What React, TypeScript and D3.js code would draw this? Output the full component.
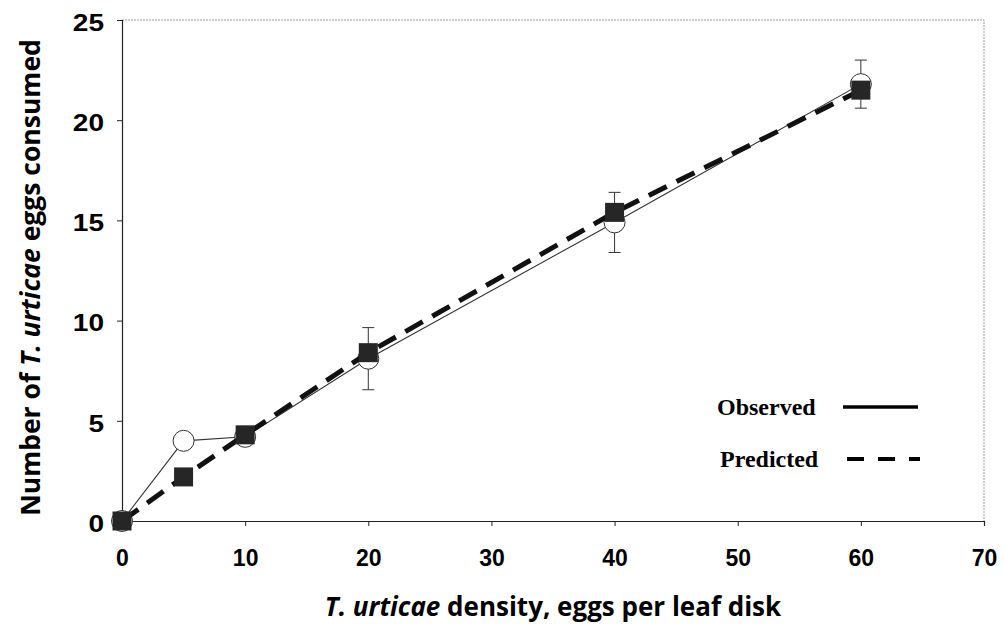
import { useEffect, useRef } from 'react';
import * as d3 from 'd3';

// egg density offered per leaf disk
const densities = [0, 5, 10, 20, 40, 60];
const observed = [0, 4.0, 4.2, 8.1, 14.9, 21.8];
const observedErr = [0, 0, 0, 1.55, 1.5, 1.2];
const predictedX = [0, 5, 10, 20, 40, 60];
const predicted = [0, 2.2, 4.3, 8.4, 15.4, 21.5];

const xTicks = [0, 10, 20, 30, 40, 50, 60, 70];
const yTicks = [0, 5, 10, 15, 20, 25];

const W = 1004;
const H = 629;
const margin = { left: 122, right: 20, top: 20, bottom: 108 };

export default function App() {
  const svgRef = useRef<SVGSVGElement>(null);

  useEffect(() => {
    if (!svgRef.current) return;
    const svg = d3.select(svgRef.current);
    svg.selectAll('*').remove();

    const x = d3.scaleLinear().domain([0, 70]).range([margin.left, W - margin.right]);
    const y = d3.scaleLinear().domain([0, 25]).range([H - margin.bottom, margin.top]);

    // frame: dotted top/right
    svg.append('path')
      .attr('d', `M${x(0)},${y(25)}H${x(70)}V${y(0)}`)
      .attr('fill', 'none')
      .attr('stroke', '#999')
      .attr('stroke-width', 1)
      .attr('stroke-dasharray', '2,1');

    // axes
    const xAxis = svg.append('g')
      .attr('transform', `translate(0,${y(0)})`)
      .call(d3.axisBottom(x).tickValues(xTicks).tickSize(5).tickPadding(21));
    const yAxis = svg.append('g')
      .attr('transform', `translate(${x(0)},0)`)
      .call(d3.axisLeft(y).tickValues(yTicks).tickSize(5).tickPadding(13));

    [xAxis, yAxis].forEach(ax => {
      ax.select('.domain').attr('stroke', '#222').attr('stroke-width', 1.2);
      ax.selectAll('.tick line').attr('stroke', '#222');
      ax.selectAll('.tick text')
        .attr('fill', '#000')
        .style('font-family', '"Liberation Sans", Arial, sans-serif')
        .style('font-weight', 'bold')
        .style('font-size', '23px');
    });
    xAxis.selectAll('.tick text').attr('dy', '0.84em');
    // y labels in the scan are wider than the x ones
    yAxis.selectAll('.tick text')
      .attr('x', -18 / 1.22)
      .attr('dy', '0.45em')
      .attr('transform', 'scale(1.22,1)');

    const obsPts = densities.map((d, i) => ({ x: d, y: observed[i], e: observedErr[i] }));
    const predPts = predictedX.map((d, i) => ({ x: d, y: predicted[i] }));

    const line = d3.line<{ x: number; y: number }>()
      .x(d => x(d.x))
      .y(d => y(d.y));

    // observed line
    svg.append('path')
      .datum(obsPts)
      .attr('d', line)
      .attr('fill', 'none')
      .attr('stroke', '#333')
      .attr('stroke-width', 1.1);

    // error bars
    const eb = svg.append('g').attr('stroke', '#333').attr('stroke-width', 1);
    obsPts.filter(p => p.e > 0).forEach(p => {
      eb.append('line')
        .attr('x1', x(p.x)).attr('x2', x(p.x))
        .attr('y1', y(p.y + p.e)).attr('y2', y(p.y - p.e));
      [p.y + p.e, p.y - p.e].forEach(v => {
        eb.append('line')
          .attr('x1', x(p.x) - 6).attr('x2', x(p.x) + 6)
          .attr('y1', y(v)).attr('y2', y(v));
      });
    });

    // observed circles
    svg.append('g')
      .selectAll('circle')
      .data(obsPts)
      .join('circle')
      .attr('cx', d => x(d.x))
      .attr('cy', d => y(d.y))
      .attr('r', 10.5)
      .attr('fill', '#fff')
      .attr('stroke', '#333')
      .attr('stroke-width', 1);

    // predicted dashed line
    svg.append('path')
      .datum(predPts)
      .attr('d', line)
      .attr('fill', 'none')
      .attr('stroke', '#111')
      .attr('stroke-width', 5)
      .attr('stroke-dasharray', '20,11');

    // predicted squares
    const s = 19;
    svg.append('g')
      .selectAll('rect')
      .data(predPts)
      .join('rect')
      .attr('x', d => x(d.x) - s / 2)
      .attr('y', d => y(d.y) - s / 2)
      .attr('width', s)
      .attr('height', s)
      .attr('fill', '#262626');

    // legend
    const lg = svg.append('g')
      .style('font-family', '"Liberation Serif", "Times New Roman", serif')
      .style('font-weight', 'bold')
      .style('font-size', '24px');
    lg.append('text').attr('x', 717).attr('y', 415).text('Observed');
    lg.append('text').attr('x', 720).attr('y', 467).text('Predicted');
    lg.append('line')
      .attr('x1', 843).attr('x2', 918).attr('y1', 407).attr('y2', 407)
      .attr('stroke', '#000').attr('stroke-width', 3.5);
    lg.append('line')
      .attr('x1', 847).attr('x2', 920).attr('y1', 459).attr('y2', 459)
      .attr('stroke', '#000').attr('stroke-width', 4)
      .attr('stroke-dasharray', '17,14');

    // axis titles
    const xt = svg.append('text')
      .attr('x', 553)
      .attr('y', 616)
      .attr('text-anchor', 'middle')
      .style('font-family', '"Open Sans", "Noto Sans", sans-serif')
      .style('font-weight', 'bold')
      .style('font-size', '26px');
    xt.append('tspan').style('font-style', 'italic').text('T. urticae');
    xt.append('tspan').text(' density, eggs per leaf disk');

    const yt = svg.append('text')
      .attr('transform', `translate(40,${(y(0) + y(25)) / 2 + 7}) rotate(-90)`)
      .attr('text-anchor', 'middle')
      .style('font-family', '"Open Sans", "Noto Sans", sans-serif')
      .style('font-weight', 'bold')
      .style('font-size', '26.5px');
    yt.append('tspan').text('Number of ');
    yt.append('tspan').style('font-style', 'italic').text('T. urticae');
    yt.append('tspan').text(' eggs consumed');
  }, []);

  return (
    <div style={{ position: 'absolute', left: 0, top: 0 }}>
      <svg ref={svgRef} width={W} height={H} style={{ display: 'block', background: '#fff' }} />
    </div>
  );
}
